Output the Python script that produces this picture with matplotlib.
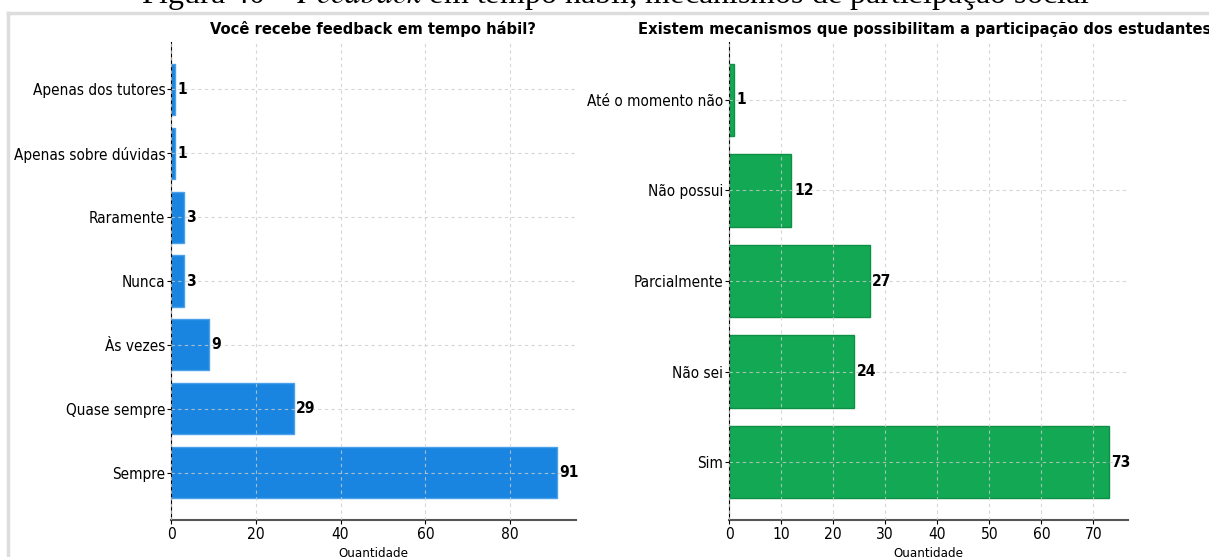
import matplotlib
matplotlib.use("Agg")
import matplotlib.pyplot as plt
from matplotlib.lines import Line2D

# dados
cat_feedback = ["Sempre", "Quase sempre", "Às vezes", "Nunca", "Raramente",
                "Apenas sobre dúvidas", "Apenas dos tutores"]
val_feedback = [91, 29, 9, 3, 3, 1, 1]

cat_mecanismos = ["Sim", "Não sei", "Parcialmente", "Não possui", "Até o momento não"]
val_mecanismos = [73, 24, 27, 12, 1]

title_feedback = "Você recebe feedback em tempo hábil?"
title_mecanismos = "Existem mecanismos que possibilitam a participação dos estudantes?"
caption = "Figura 40 – $\\it{Feedback}$ em tempo hábil; mecanismos de participação social"

plt.rcParams['font.family'] = ['DejaVu Sans']
plt.rcParams['font.stretch'] = 'condensed'
plt.rcParams['mathtext.fontset'] = 'stix'

fig = plt.figure(figsize=(12.09, 5.57), dpi=100)
W, H = 1209, 557

def box(x0, x1, y0, y1):
    return [x0 / W, 1 - y1 / H, (x1 - x0) / W, (y1 - y0) / H]

ax1 = fig.add_axes(box(171, 576, 42, 520))
ax2 = fig.add_axes(box(729, 1128, 42, 520))

def draw(ax, cats, vals, color, edge, title, ticks):
    ax.barh(cats, vals, height=0.8, color=color, edgecolor=edge, linewidth=1)
    ax.grid(True, linestyle=(0, (3, 3)), color='#cccccc', linewidth=0.8, alpha=0.8)
    ax.set_axisbelow(False)
    ax.spines['top'].set_visible(False)
    ax.spines['right'].set_visible(False)
    ax.spines['left'].set_color('black')
    ax.spines['bottom'].set_color('#555555')
    ax.spines['bottom'].set_linewidth(1.5)
    ax.set_xticks(ticks)
    ax.tick_params(axis='y', labelsize=11, length=3, pad=1)
    ax.tick_params(axis='x', labelsize=11.2, length=3, pad=2)
    ax.set_xlabel("Quantidade", fontsize=9.5, labelpad=3)
    ax.set_title(title, fontsize=11.8, fontweight='bold', pad=6)
    for i, v in enumerate(vals):
        ax.text(v + 0.5, i, str(v), va='center', ha='left',
                fontsize=11.2, fontweight='bold')

draw(ax1, cat_feedback, val_feedback, '#1a85e0', '#4aa0ea', title_feedback,
     [0, 20, 40, 60, 80])
draw(ax2, cat_mecanismos, val_mecanismos, '#13a853', '#0e8f45', title_mecanismos,
     [0, 10, 20, 30, 40, 50, 60, 70])

# moldura e legenda da figura
fig.add_artist(Line2D([8 / W, 8 / W], [0, 1 - 13 / H], color='#dddddd', linewidth=2.5))
fig.add_artist(Line2D([8 / W, 1], [1 - 13 / H, 1 - 13 / H], color='#dddddd', linewidth=2.5))
fig.text(615 / W, 1 + 5 / H, caption, family='Liberation Serif', fontsize=23,
         ha='center', va='center', stretch='normal')

fig.savefig("out.png", dpi=100)
